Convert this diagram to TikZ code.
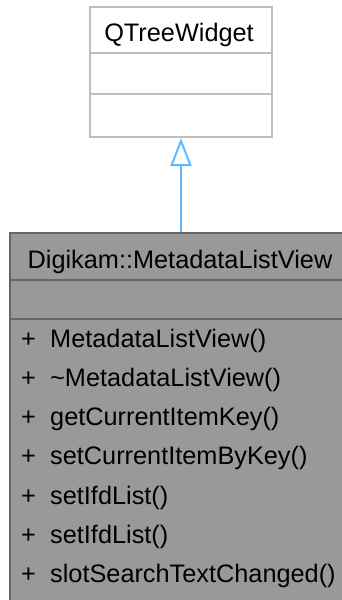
\documentclass[tikz,border=0pt]{standalone}
\usepackage{fontspec}
\setmainfont{Liberation Sans}
\definecolor{dxblue}{RGB}{99,184,255}
\definecolor{dxfill}{RGB}{153,153,153}
\definecolor{dxedge}{RGB}{102,102,102}
\definecolor{dxlight}{RGB}{191,191,191}
\usetikzlibrary{arrows.meta}

\begin{document}
\begin{tikzpicture}[
  x=1pt,y=-1pt,
  every node/.style={font=\fontsize{25.3}{30}\selectfont},
  basepart/.style={draw=dxlight,fill=white,line width=2pt,minimum width=182pt,inner sep=0pt},
  classpart/.style={draw=dxedge,fill=dxfill,line width=2pt,minimum width=342pt,inner sep=0pt},
  member/.style={anchor=base west,inner sep=0pt},
]
  \useasboundingbox (0,0) rectangle (342,600);
  % Base class QTreeWidget
  \node[basepart,minimum height=46pt] (qtw) at (181,30) {};
  \node[basepart,minimum height=41pt] (qtwattr) at (181,73.5) {};
  \node[basepart,minimum height=43pt] (qtwops) at (181,115.5) {};
  \node[anchor=base,inner sep=0pt] (qtwname) at (179,41) {QTreeWidget};
  % Class Digikam::MetadataListView
  \node[classpart,minimum height=47pt] (meta) at (181,256.5) {};
  \node[classpart,minimum height=39pt] (metaattr) at (181,299.5) {};
  \node[classpart,minimum height=291pt] (metaops) at (181,464.5) {};
  \node[anchor=base,inner sep=0pt] (metaname) at (180,268) {Digikam::MetadataListView};
  % Public members
  \node[member] (ctor) at (21,347) {\makebox[29pt][l]{+}MetadataListView()};
  \node[member] (dtor) at (21,386.3) {\makebox[29pt][l]{+}\textasciitilde MetadataListView()};
  \node[member] (getkey) at (21,425.6) {\makebox[29pt][l]{+}getCurrentItemKey()};
  \node[member] (setkey) at (21,464.9) {\makebox[29pt][l]{+}setCurrentItemByKey()};
  \node[member] (setifd) at (21,504.2) {\makebox[29pt][l]{+}setIfdList()};
  \node[member] (setifdb) at (21,543.5) {\makebox[29pt][l]{+}setIfdList()};
  \node[member] (slotsearch) at (21,582.8) {\makebox[29pt][l]{+}slotSearchTextChanged()};
  % Inheritance
  \draw[-{Triangle[open,length=28pt,width=21pt]},line width=2pt,dxblue] (meta.north) -- (qtwops.south);
\end{tikzpicture}
\end{document}
